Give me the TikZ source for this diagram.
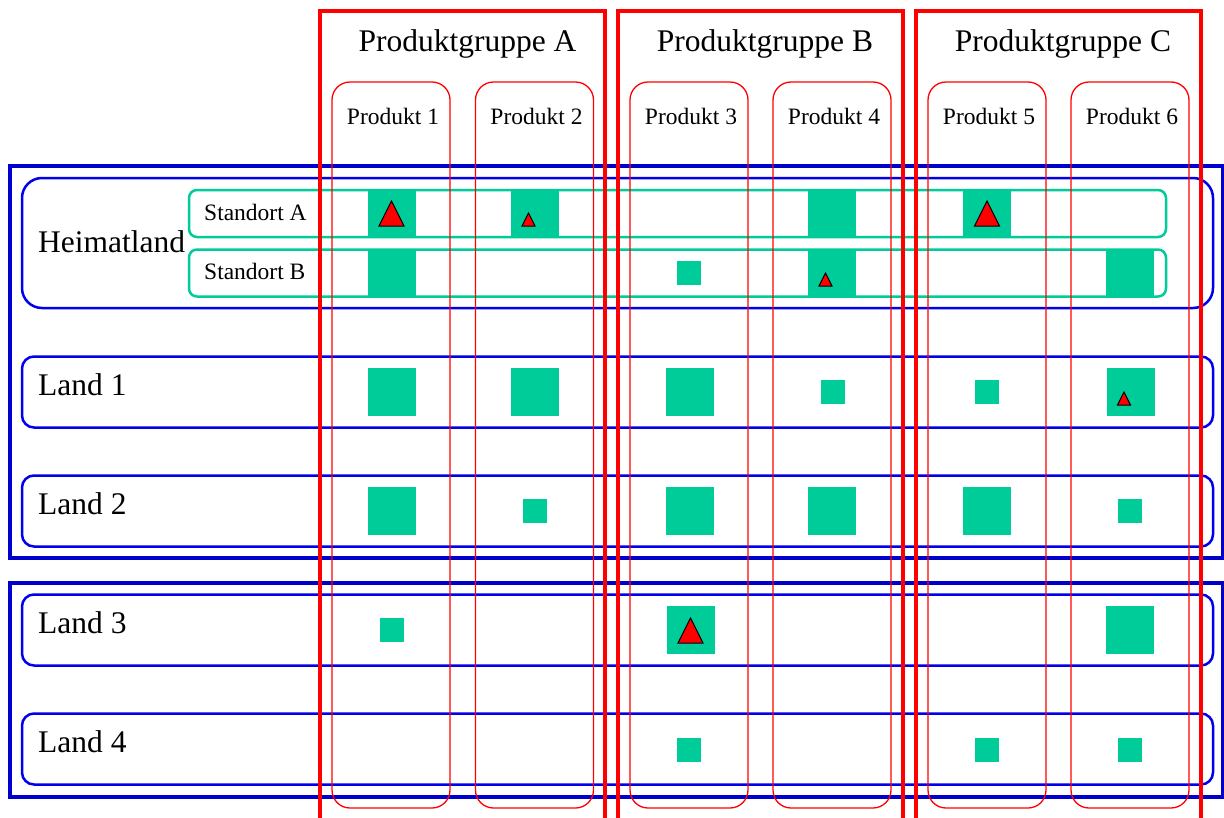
\documentclass[tikz,border=0pt]{standalone}
\usepackage{fontspec}
\setmainfont{Liberation Serif}
\definecolor{tealsq}{RGB}{0,204,153}
\definecolor{bluedark}{RGB}{0,0,204}
\definecolor{bluerow}{RGB}{0,0,235}
\begin{document}
\begin{tikzpicture}[x=1pt,y=-1pt,
  bigtext/.style={font=\fontsize{31.5}{36}\selectfont, inner sep=0pt},
  smalltext/.style={font=\fontsize{23.5}{28}\selectfont, inner sep=0pt},
  outerbox/.style={draw=bluedark, line width=4pt, minimum width=1213pt, inner sep=0pt, outer sep=0pt},
  rowbox/.style={draw=bluerow, line width=2.5pt, rounded corners=12pt, minimum width=1191pt, inner sep=0pt, outer sep=0pt},
  sitebox/.style={draw=tealsq, line width=2.5pt, rounded corners=8pt, minimum width=977pt, minimum height=47pt, inner sep=0pt, outer sep=0pt},
  groupbox/.style={draw=red, line width=4pt, minimum width=285pt, minimum height=829pt, inner sep=0pt, outer sep=0pt},
  prodbox/.style={draw=red, line width=1.3pt, rounded corners=18pt, minimum width=118pt, minimum height=726pt, inner sep=0pt, outer sep=0pt},
  bigsq/.style={fill=tealsq, minimum size=48pt, inner sep=0pt, outer sep=0pt},
  smallsq/.style={fill=tealsq, minimum size=24pt, inner sep=0pt, outer sep=0pt},
  tri/.style={fill=red, draw=black, line width=1pt, line join=miter},
  bigtri/.pic={\draw[tri] (-12.5,13) -- (12.5,13) -- (0,-12) -- cycle;},
  smalltri/.pic={\draw[tri] (-13,13) -- (0,13) -- (-6.5,0) -- cycle;}
]
\useasboundingbox (0,0) rectangle (1224,817);

% outer blue boxes
\node[outerbox, minimum height=392pt] (outer1) at (616.5,362) {};
\node[outerbox, minimum height=214pt] (outer2) at (616.5,690) {};

% country rows
\node[rowbox, rounded corners=20pt, minimum height=130pt] (heim) at (617.5,243) {};
\node[rowbox, minimum height=71pt] (land1) at (617.5,392) {};
\node[rowbox, minimum height=71pt] (land2) at (617.5,511) {};
\node[rowbox, minimum height=71pt] (land3) at (617.5,630) {};
\node[rowbox, minimum height=71pt] (land4) at (617.5,749) {};

% sites
\node[sitebox] (siteA) at (677.5,213.5) {};
\node[sitebox] (siteB) at (677.5,273) {};

% labels
\node[bigtext, anchor=base west] (lheim) at (38,252) {Heimatland};
\node[smalltext, anchor=base west] (lsA) at (204,220) {Standort A};
\node[smalltext, anchor=base west] (lsB) at (204,279.5) {Standort B};
\node[bigtext, anchor=base west] (l1) at (38,395) {Land 1};
\node[bigtext, anchor=base west] (l2) at (38,514) {Land 2};
\node[bigtext, anchor=base west] (l3) at (38,633) {Land 3};
\node[bigtext, anchor=base west] (l4) at (38,752) {Land 4};

% Standort A
\node[bigsq] (a1) at (391.5,213) {};
\node[bigsq] (a2) at (535,213) {};
\node[bigsq] (a4) at (832,213) {};
\node[bigsq] (a5) at (987,213) {};
% Standort B
\node[bigsq] (b1) at (391.5,273) {};
\node[smallsq] (b3) at (689,273) {};
\node[bigsq] (b4) at (832,273) {};
\node[bigsq] (b6) at (1130,273) {};
% Land 1
\node[bigsq] (c1) at (391.5,392) {};
\node[bigsq] (c2) at (535,392) {};
\node[bigsq] (c3) at (690,392) {};
\node[smallsq] (c4) at (832.5,392) {};
\node[smallsq] (c5) at (987,392) {};
\node[bigsq] (c6) at (1130.5,392) {};
% Land 2
\node[bigsq] (d1) at (391.5,511) {};
\node[smallsq] (d2) at (535,511) {};
\node[bigsq] (d3) at (690,511) {};
\node[bigsq] (d4) at (832,511) {};
\node[bigsq] (d5) at (987,511) {};
\node[smallsq] (d6) at (1129.5,511) {};
% Land 3
\node[smallsq] (e1) at (391.5,630) {};
\node[bigsq] (e3) at (690.5,630) {};
\node[bigsq] (e6) at (1130,630) {};
% Land 4
\node[smallsq] (f3) at (689,749.5) {};
\node[smallsq] (f5) at (987,749.5) {};
\node[smallsq] (f6) at (1129.5,749.5) {};

% triangles
\pic at (a1.center) {bigtri};
\pic at (a2.center) {smalltri};
\pic at (a5.center) {bigtri};
\pic at (b4.center) {smalltri};
\pic at (c6.center) {smalltri};
\pic at (e3.center) {bigtri};

% products
\node[prodbox] (p1) at (391,445) {};
\node[prodbox] (p2) at (534.5,445) {};
\node[prodbox] (p3) at (689,445) {};
\node[prodbox] (p4) at (832,445) {};
\node[prodbox] (p5) at (987,445) {};
\node[prodbox] (p6) at (1130,445) {};
\node[smalltext, anchor=base] (t1) at (393,124) {Produkt 1};
\node[smalltext, anchor=base] (t2) at (536.5,124) {Produkt 2};
\node[smalltext, anchor=base] (t3) at (691,124) {Produkt 3};
\node[smalltext, anchor=base] (t4) at (834,124) {Produkt 4};
\node[smalltext, anchor=base] (t5) at (989,124) {Produkt 5};
\node[smalltext, anchor=base] (t6) at (1132,124) {Produkt 6};

% product groups
\node[groupbox] (gA) at (462.5,425.5) {};
\node[groupbox] (gB) at (760,425.5) {};
\node[groupbox] (gC) at (1058,425.5) {};
\node[bigtext, anchor=base] (tgA) at (467.5,51) {Produktgruppe A};
\node[bigtext, anchor=base] (tgB) at (765,51) {Produktgruppe B};
\node[bigtext, anchor=base] (tgC) at (1063,51) {Produktgruppe C};
\end{tikzpicture}
\end{document}
